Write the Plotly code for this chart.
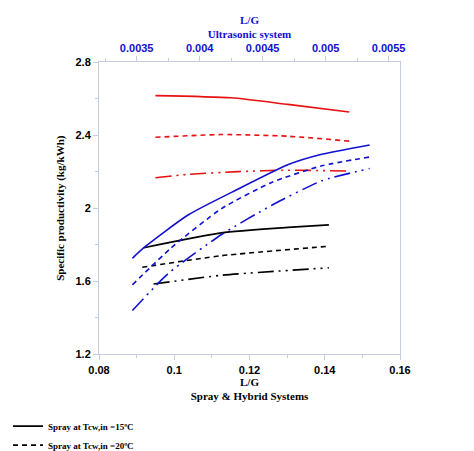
import plotly.graph_objects as go

# Spray (bottom axis)
spray_x15 = [0.0919, 0.1125, 0.1302, 0.1411]
spray_y15 = [1.784, 1.865, 1.895, 1.909]
spray_x20 = [0.0915, 0.1125, 0.1411]
spray_y20 = [1.677, 1.74, 1.792]
spray_x25 = [0.0945, 0.1125, 0.1411]
spray_y25 = [1.585, 1.633, 1.674]
# Hybrid (bottom axis)
hyb_x15 = [0.0950, 0.1151, 0.1302, 0.1465]
hyb_y15 = [2.616, 2.604, 2.568, 2.526]
hyb_x20 = [0.0950, 0.1125, 0.1302, 0.1465]
hyb_y20 = [2.388, 2.403, 2.394, 2.367]
hyb_x25 = [0.0950, 0.1036, 0.1169, 0.1302, 0.1465]
hyb_y25 = [2.167, 2.185, 2.20, 2.208, 2.203]
# Ultrasonic (top axis)
ult_x15 = [0.003466, 0.003564, 0.003908, 0.004306, 0.004704, 0.004969, 0.005349]
ult_y15 = [1.726, 1.788, 1.963, 2.105, 2.239, 2.295, 2.346]
ult_x20 = [0.003466, 0.003776, 0.004174, 0.004572, 0.004969, 0.005349]
ult_y20 = [1.581, 1.784, 1.998, 2.141, 2.232, 2.28]
ult_x25 = [0.003466, 0.003749, 0.004174, 0.004572, 0.004969, 0.005349]
ult_y25 = [1.44, 1.642, 1.856, 2.016, 2.15, 2.217]

DASH = "5px,4px"
DASHDOT = "16px,5px,2px,5px,2px,5px"
BLUE = "#1010d0"
RED = "#e81010"

fig = go.Figure()
def add(x, y, name, color, dash, xaxis="x"):
    fig.add_trace(go.Scatter(x=x, y=y, name=name, mode="lines", xaxis=xaxis,
                             line=dict(color=color, dash=dash, width=1.6, shape="spline", smoothing=0.6)))

add(spray_x15, spray_y15, "Spray at Tcw,in =15ºC", "black", "solid")
add(spray_x20, spray_y20, "Spray at Tcw,in =20ºC", "black", DASH)
add(spray_x25, spray_y25, "Spray at Tcw,in =25ºC", "black", DASHDOT)
add(ult_x15, ult_y15, "<span style='color:#1010d0'>Ultrasonic at Tcw,in =15ºC</span>", BLUE, "solid", "x2")
add(ult_x20, ult_y20, "<span style='color:#1010d0'>Ultrasonic at Tcw,in =20ºC</span>", BLUE, DASH, "x2")
add(ult_x25, ult_y25, "<span style='color:#1010d0'>Ultrasonic at Tcw,in =25ºC</span>", BLUE, DASHDOT, "x2")
add(hyb_x15, hyb_y15, "<span style='color:#e81010'>Hybrid at Tcw,in =15ºC</span>", RED, "solid")
add(hyb_x20, hyb_y20, "<span style='color:#e81010'>Hybrid at Tcw,in =20ºC</span>", RED, DASH)
add(hyb_x25, hyb_y25, "<span style='color:#e81010'>Hybrid at Tcw,in =25ºC</span>", RED, DASHDOT)

axcol = "#c8cce0"
tickfont = dict(family="Liberation Sans", size=11, color="black", weight="bold")
titlefont = dict(family="Liberation Serif", size=11, color="black", weight="bold")

fig.update_layout(
    width=474, height=451, paper_bgcolor="white", plot_bgcolor="white",
    margin=dict(l=91, r=82, t=50, b=102),
    xaxis=dict(range=[0.08, 0.16], dtick=0.02, showgrid=False, zeroline=False,
               showline=True, linecolor=axcol, mirror=True, ticks="outside", tickcolor=axcol, ticklen=5,
               minor=dict(ticks="outside", dtick=0.01, ticklen=3, tickcolor=axcol),
               tickfont=tickfont,
               title=dict(text="L/G<br>Spray & Hybrid Systems", font=titlefont, standoff=2)),
    xaxis2=dict(range=[0.003201, 0.00559], overlaying="x", side="top", dtick=0.0005, tick0=0.0035,
                showgrid=False, zeroline=False, showline=False, ticks="outside", tickcolor=axcol, ticklen=5,
                minor=dict(ticks="outside", dtick=0.00025, ticklen=3, tickcolor=axcol),
                tickfont=dict(family="Liberation Sans", size=11, color=BLUE, weight="bold"),
                title=dict(text="L/G<br>Ultrasonic system",
                           font=dict(family="Liberation Serif", size=11, color=BLUE, weight="bold"), standoff=0)),
    yaxis=dict(range=[1.2, 2.8], dtick=0.4, showgrid=False, zeroline=False,
               showline=True, linecolor=axcol, mirror=True, ticks="outside", tickcolor=axcol, ticklen=5,
               minor=dict(ticks="outside", dtick=0.2, ticklen=3, tickcolor=axcol),
               tickfont=tickfont,
               title=dict(text="Specific productivity (kg/kWh)", font=titlefont, standoff=8)),
    legend=dict(orientation="h", xref="container", x=0.0, yref="container", y=0.105, yanchor="top",
                entrywidth=155, tracegroupgap=0, itemwidth=30,
                font=dict(family="Liberation Serif", size=9, color="black", weight="bold")),
    showlegend=True,
)
fig.write_html("out.html")
